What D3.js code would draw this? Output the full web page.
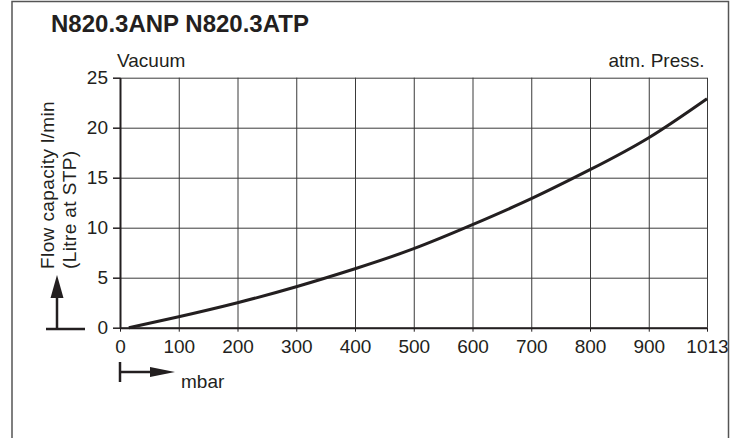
<!DOCTYPE html>
<html>
<head>
<meta charset="utf-8">
<script src="https://cdn.jsdelivr.net/npm/d3@7"></script>
<style>
  body { margin: 0; background: #fff; }
  text { font-family: "Liberation Sans", Arial, sans-serif; fill: #231f20; }
</style>
</head>
<body>
<div id="main"></div>
<script>
// values
const pressure = [15, 100, 200, 300, 400, 500, 600, 700, 800, 900, 1013];
const flow = [0, 1.1, 2.5, 4.1, 5.9, 7.9, 10.3, 12.9, 15.8, 19.0, 22.9];

const xTicks = [0, 100, 200, 300, 400, 500, 600, 700, 800, 900, 1013];
const yTicks = [0, 5, 10, 15, 20, 25];

const W = 734, H = 438;
const plotLeft = 120, plotRight = 707, plotTop = 77.7, plotBottom = 327.7;

const svg = d3.select("#main")
  .append("svg")
    .attr("width", W)
    .attr("height", H);

// outer frame
svg.append("rect")
  .attr("x", 12).attr("y", 1.5)
  .attr("width", 716.5).attr("height", H + 10)
  .attr("fill", "none")
  .attr("stroke", "#555")
  .attr("stroke-width", 1.5);

// last column (900..1013) is drawn at the same width as the others
const x = d3.scaleLinear().domain([0, 900, 1013]).range([plotLeft, 648.75, plotRight]);
const y = d3.scaleLinear().domain([0, 25]).range([plotBottom, plotTop]);

// grid
svg.append("g")
  .attr("transform", `translate(0,${plotBottom})`)
  .call(d3.axisBottom(x).tickValues(xTicks).tickSize(-(plotBottom - plotTop)).tickFormat(""))
  .call(g => g.select(".domain").remove())
  .call(g => g.selectAll("line").attr("stroke", "#3a3a3a").attr("stroke-width", 1));

svg.append("g")
  .attr("transform", `translate(${plotLeft},0)`)
  .call(d3.axisLeft(y).tickValues(yTicks).tickSize(-(plotRight - plotLeft)).tickFormat(""))
  .call(g => g.select(".domain").remove())
  .call(g => g.selectAll("line").attr("stroke", "#3a3a3a").attr("stroke-width", 1));

// axes
svg.append("g")
  .attr("transform", `translate(0,${plotBottom})`)
  .call(d3.axisBottom(x).tickValues(xTicks).tickSize(4).tickSizeOuter(0).tickPadding(8).tickFormat(d => d))
  .call(g => g.select(".domain").attr("stroke", "#231f20").attr("stroke-width", 2))
  .call(g => g.selectAll("line").attr("stroke", "#231f20"))
  .call(g => g.selectAll("text").attr("font-size", 19).attr("font-family", null));

svg.append("g")
  .attr("transform", `translate(${plotLeft},0)`)
  .call(d3.axisLeft(y).tickValues(yTicks).tickSize(7).tickSizeOuter(0).tickPadding(5))
  .call(g => g.select(".domain").attr("stroke", "#231f20").attr("stroke-width", 2))
  .call(g => g.selectAll("line").attr("stroke", "#231f20").attr("stroke-width", 1.5))
  .call(g => g.selectAll("text").attr("font-size", 19).attr("font-family", null));

// curve
const line = d3.line()
  .x((d, i) => x(pressure[i]))
  .y(d => y(d))
  .curve(d3.curveNatural);

svg.append("path")
  .datum(flow)
  .attr("d", line)
  .attr("fill", "none")
  .attr("stroke", "#231f20")
  .attr("stroke-width", 3);

// texts
svg.append("text")
  .attr("x", 51).attr("y", 32)
  .attr("font-size", 24)
  .attr("font-weight", "bold")
  .text("N820.3ANP N820.3ATP");

svg.append("text")
  .attr("x", 117).attr("y", 66.5)
  .attr("font-size", 19)
  .text("Vacuum");

svg.append("text")
  .attr("x", 704.5).attr("y", 66.5)
  .attr("font-size", 19)
  .attr("text-anchor", "end")
  .text("atm. Press.");

const ylab = svg.append("text")
  .attr("transform", "translate(0,269) rotate(-90)")
  .attr("font-size", 19)
  .attr("letter-spacing", 0.4);
ylab.append("tspan").attr("x", 0).attr("y", 54).text("Flow capacity l/min");
ylab.append("tspan").attr("x", 0).attr("y", 76).text("(Litre at STP)");

// up arrow
svg.append("line")
  .attr("x1", 46).attr("x2", 85).attr("y1", 329).attr("y2", 329)
  .attr("stroke", "#231f20").attr("stroke-width", 2.5);
svg.append("line")
  .attr("x1", 57).attr("x2", 57).attr("y1", 329).attr("y2", 296)
  .attr("stroke", "#231f20").attr("stroke-width", 2.5);
svg.append("path")
  .attr("d", "M57,275 L63.5,298 L50.5,298 Z")
  .attr("fill", "#231f20");

// right arrow
svg.append("line")
  .attr("x1", 120).attr("x2", 120).attr("y1", 362).attr("y2", 382)
  .attr("stroke", "#231f20").attr("stroke-width", 2.5);
svg.append("line")
  .attr("x1", 120).attr("x2", 152).attr("y1", 372).attr("y2", 372)
  .attr("stroke", "#231f20").attr("stroke-width", 2.5);
svg.append("path")
  .attr("d", "M175,372 L150,367 L150,377 Z")
  .attr("fill", "#231f20");

svg.append("text")
  .attr("x", 181).attr("y", 388)
  .attr("font-size", 19)
  .text("mbar");
</script>
</body>
</html>
